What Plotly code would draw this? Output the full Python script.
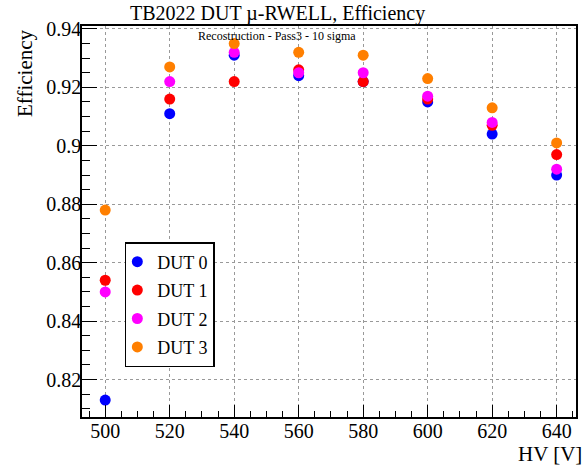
import plotly.graph_objects as go

hv = [500, 520, 540, 560, 580, 600, 620, 640]
dut0 = [0.813, 0.911, 0.931, 0.924, 0.922, 0.915, 0.904, 0.890]
dut1 = [0.854, 0.916, 0.922, 0.926, 0.922, 0.916, 0.907, 0.897]
dut2 = [0.850, 0.922, 0.932, 0.925, 0.925, 0.917, 0.908, 0.892]
dut3 = [0.878, 0.927, 0.935, 0.932, 0.931, 0.923, 0.913, 0.901]
names = ["DUT 0", "DUT 1", "DUT 2", "DUT 3"]
colors = ["#0000ff", "#ff0000", "#ff00ff", "#ff7f00"]

FONT = "Liberation Serif, Times New Roman, serif"
fig = go.Figure()
for name, ys, c in zip(names, [dut0, dut1, dut2, dut3], colors):
    fig.add_trace(go.Scatter(x=hv, y=ys, mode="markers", name=name, legendgroup=name,
                             marker=dict(color=c, size=11, line=dict(width=0))))

L, R, T, B = 82, 6, 26, 48
W, H = 584, 465
PW = W - L - R
PH = H - T - B
fig.update_layout(
    width=W, height=H,
    margin=dict(l=L, r=R, t=T, b=B),
    paper_bgcolor="white", plot_bgcolor="white",
    font=dict(family=FONT, color="black", size=20),
    showlegend=True,
    legend=dict(x=(125 - L) / PW, y=(H - B - 242) / PH, xanchor="left", yanchor="top",
                bordercolor="black", borderwidth=1.5, bgcolor="white",
                font=dict(family=FONT, size=18, color="black"),
                itemwidth=30, tracegroupgap=2, indentation=-9),
    xaxis=dict(range=[492.8, 646], showline=True, linecolor="black", linewidth=1.5,
               mirror=True, ticks="inside", ticklen=12, tickwidth=1, tickcolor="black",
               dtick=20, tick0=500, ticklabelstandoff=-5,
               minor=dict(dtick=5, ticks="inside", ticklen=6, tickcolor="black", showgrid=False),
               showgrid=True, gridcolor="#999999", griddash="dot", gridwidth=1,
               zeroline=False, tickfont=dict(size=20, family=FONT, color="black")),
    yaxis=dict(range=[0.8072, 0.941], showline=True, linecolor="black", linewidth=1.5,
               mirror=True, ticks="inside", ticklen=15, tickwidth=1, tickcolor="black",
               dtick=0.02, tick0=0.82, ticklabelstandoff=-5,
               minor=dict(dtick=0.005, ticks="inside", ticklen=8, tickcolor="black", showgrid=False),
               showgrid=True, gridcolor="#999999", griddash="dot", gridwidth=1,
               zeroline=False, tickfont=dict(size=20, family=FONT, color="black")),
)
fig.add_annotation(text="TB2022 DUT \u00b5-RWELL, Efficiency", xref="paper", yref="paper",
                   x=(278 - L) / PW, y=1, yshift=-1, xanchor="center", yanchor="bottom",
                   showarrow=False, font=dict(family=FONT, size=20, color="black"))
fig.add_annotation(text="Recostruction - Pass3 - 10 sigma", xref="paper", yref="paper",
                   x=(278 - L) / PW, y=1, yshift=-1, xanchor="center", yanchor="top",
                   showarrow=False, font=dict(family=FONT, size=12, color="black"))
fig.add_annotation(text="Efficiency", xref="paper", yref="paper", textangle=-90,
                   x=0, xshift=-43, y=1, yshift=-1, xanchor="right", yanchor="top",
                   showarrow=False, font=dict(family=FONT, size=21, color="black"))
fig.add_annotation(text="HV [V]", xref="paper", yref="paper",
                   x=1, xshift=8, y=0, yshift=-23, xanchor="right", yanchor="top",
                   showarrow=False, font=dict(family=FONT, size=21, color="black"))
fig.write_html("out.html", config={"displayModeBar": False},
               post_script="document.body.style.margin='0';")
